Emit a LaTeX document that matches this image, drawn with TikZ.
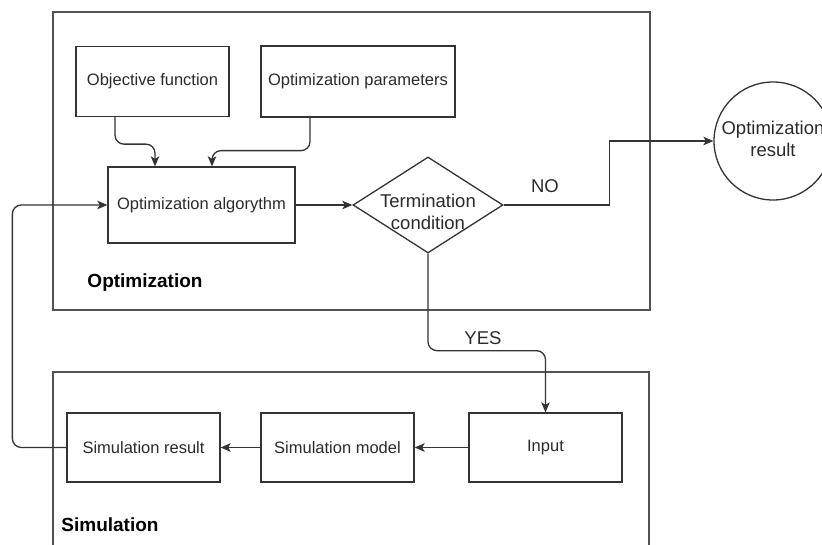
\documentclass[tikz,border=0pt]{standalone}
\usepackage{fontspec}
\setmainfont{Liberation Sans}
\usetikzlibrary{arrows.meta,shapes.geometric,calc}
\definecolor{ln}{HTML}{333333}
\definecolor{tx}{HTML}{2A2A2A}
\tikzset{
  box/.style={draw=ln, line width=1.3pt, minimum width=153pt, minimum height=70pt, inner sep=0pt,
    font=\fontsize{16.5}{19}\selectfont, text=tx},
  frame/.style={draw=ln!85!white, line width=1.5pt},
  conn/.style={draw=ln, line width=1.3pt, rounded corners=9pt},
  arr/.style={conn, -{Stealth[length=10pt,width=8.5pt,inset=2.5pt]}},
  lbl/.style={font=\fontsize{18.5}{21.5}\selectfont, text=tx, align=center, inner sep=0pt},
  ttl/.style={font=\bfseries\fontsize{19}{22}\selectfont, text=black, inner sep=0pt}
}
\begin{document}
\begin{tikzpicture}[x=1pt,y=-1pt]
\useasboundingbox (0,0) rectangle (822,545);
% containers
\draw[frame] (53,12) rectangle (650,310);
\draw[frame] (53,372) rectangle (649,570);
\node[ttl] (toptitle) at (145,283) {Optimization};
\node[ttl] (simtitle) at (110,525) {Simulation};
% nodes
\node[box] (obj) at (152.5,81.5) {Objective function};
\node[box, minimum width=194pt, minimum height=71pt] (par) at (358,81.5) {Optimization parameters};
\node[box, minimum width=187pt, minimum height=76pt] (alg) at (201.5,205) {Optimization algorythm};
\node[diamond, draw=ln, line width=1.3pt, minimum width=150pt, minimum height=96pt, inner sep=0pt] (term) at (428,205) {};
\node[lbl] (termtxt) at (428,212) {Termination\\condition};
\node[circle, draw=ln, line width=1.3pt, minimum size=118pt, inner sep=0pt] (res) at (773,141) {};
\node[lbl] (restxt) at (773,139) {Optimization\\result};
\node[box, minimum height=69pt] (input) at (545.5,447.5) {Input};
\node[box, minimum height=69pt] (model) at (337.5,447.5) {Simulation model};
\node[box, minimum height=69pt] (simres) at (143.5,447.5) {Simulation result};
% connectors
\draw[arr] ([xshift=-37.5pt]obj.south) -- ++(0,27) -| ([xshift=-46.5pt]alg.north);
\draw[arr] ([xshift=-48pt]par.south) -- ++(0,33) -| ([xshift=10.5pt]alg.north);
\draw[arr] (alg.east) -- (term.west);
\draw[arr, rounded corners=0pt] (term.east) -- ++(106,0) |- (res.west);
\node[lbl] (nolbl) at (545,186) {NO};
\draw[arr] (term.south) -- ++(0,97) -| (input.north);
\node[lbl] (yeslbl) at (483,338) {YES};
\draw[arr] (input.west) -- (model.east);
\draw[arr] (model.west) -- (simres.east);
\draw[arr] (simres.west) -- ++(-54,0) |- (alg.west);
\end{tikzpicture}
\end{document}
